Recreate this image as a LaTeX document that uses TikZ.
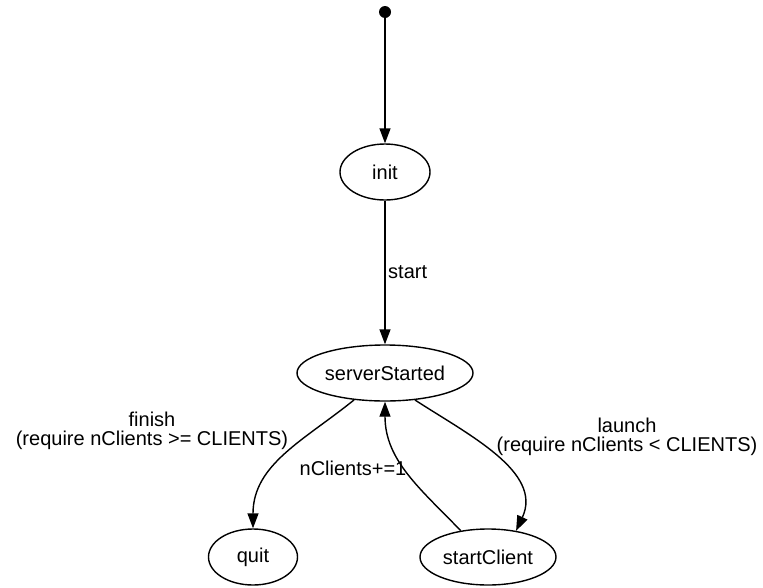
\documentclass[tikz,border=0pt]{standalone}
\usepackage{fontspec}
\setmainfont{Liberation Sans}
\usetikzlibrary{positioning,shapes.geometric,arrows.meta}

\tikzset{
  state/.style = {draw, ellipse, line width=1.4pt, minimum height=56pt, inner sep=0pt},
  initial/.style = {circle, fill, inner sep=0pt, minimum size=12pt},
  trans/.style = {line width=1.4pt, -{Triangle[length=15pt,width=11pt]}},
  lbl/.style = {inner sep=0pt, align=center},
}

\begin{document}
\begin{tikzpicture}[x=1pt, y=-1pt, on grid, font=\fontsize{20}{19}\selectfont]
    \useasboundingbox (0,0) rectangle (763,587);

      \node[initial] (s0) at (385,12) {};
      \node[state, minimum width=90pt, below = 160pt of s0] (init) {init};
      \node[state, minimum width=176pt, below = 201pt of init] (ss) {serverStarted};

      \node[state, minimum width=89pt, below left = 184pt and 132pt of ss] (quit) {quit};
      \node[state, minimum width=136pt, below right = 184pt and 103pt of ss] (sc) {startClient};

      % labels
      \node[lbl, anchor=west] (lstart) at (388,272) {start};
      \node[lbl] (lfinish) at (152,431) {finish\\(require nClients >= CLIENTS)};
      \node[lbl] (llaunch) at (627,437) {launch\\(require nClients < CLIENTS)};
      \node[lbl] (lcount) at (353,468) {nClients+=1};

      \draw[trans] (s0) -- (init.north);
      \draw[trans] (init) -- (ss);
      \draw[trans] (ss.221) to[out=219, in=90] (quit.north);
      \draw[trans] (ss.318) to[out=-33, in=65] (sc.43);
      \draw[trans] (sc.136) to[out=134, in=270] (ss.south);

\end{tikzpicture}
\end{document}
